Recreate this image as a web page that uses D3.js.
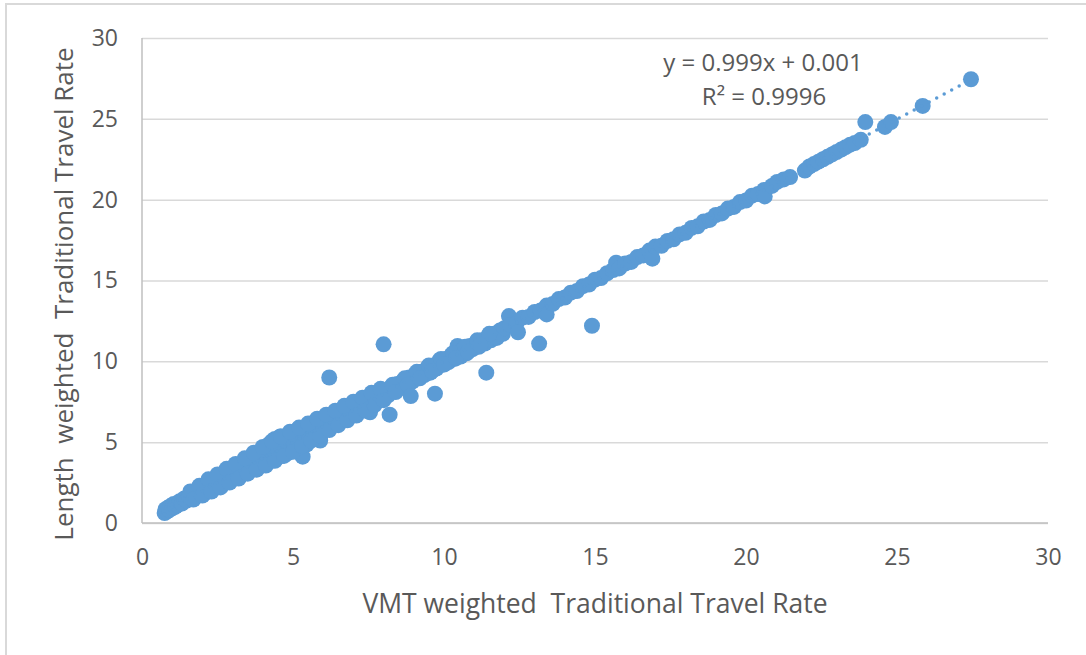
<!DOCTYPE html>
<html>
<head>
<meta charset="utf-8">
<script src="https://cdn.jsdelivr.net/npm/d3@7"></script>
<style>
  body { margin: 0; background: #fff; }
  svg { display: block; }
</style>
</head>
<body>
<svg id="chart" width="1086" height="655"></svg>
<script>
// Tick values
const xTicks = [0, 5, 10, 15, 20, 25, 30];
const yTicks = [0, 5, 10, 15, 20, 25, 30];

// Main band of points (VMT weighted rate vs length weighted rate)
const bandVmt = [
    0.75, 0.78, 0.82, 0.86, 0.90, 0.95, 1.00, 1.05, 1.10, 1.18, 1.25, 1.32, 1.40, 1.48, 1.55, 1.62, 1.70, 1.78, 1.85, 1.93, 2.00,
    2.05, 2.10, 2.15, 2.22, 2.28, 2.35, 2.40, 2.48, 2.55, 2.60, 2.68, 2.75, 2.80, 2.88, 2.95, 3.00, 3.08, 3.15, 3.20, 3.28, 3.35, 3.40, 3.48,
    3.52, 3.58, 3.62, 3.70, 3.75, 3.80, 3.88, 3.92, 3.98, 4.05, 4.10, 4.15, 4.22, 4.28, 4.32, 4.40, 4.45, 4.50, 4.58, 4.62, 4.68, 4.75, 4.80,
    4.85, 4.92, 4.98, 5.02, 5.10, 5.15, 5.20, 5.28, 5.32, 5.40, 5.45, 5.50,
    5.55, 5.62, 5.68, 5.75, 5.82, 5.90, 5.95, 6.02, 6.10, 6.15, 6.22, 6.30, 6.38, 6.45, 6.52, 6.60, 6.68, 6.75, 6.82, 6.90, 6.98, 7.05,
    7.12, 7.20, 7.28, 7.35, 7.42, 7.50, 7.55, 7.65, 7.72, 7.80, 7.88, 7.95,
    8.05, 8.15, 8.25, 8.35, 8.45, 8.55, 8.65, 8.75, 8.85, 8.95, 9.05, 9.15, 9.25, 9.35, 9.45, 9.55, 9.65, 9.75, 9.85, 9.95, 10.05, 10.15,
    10.25, 10.35, 10.45, 10.55, 10.65, 10.75, 10.85, 10.95, 11.05, 11.15, 11.25, 11.35, 11.45, 11.55, 11.65, 11.75, 11.85, 11.95,
    12.00, 12.15, 12.20, 12.40, 12.45, 12.60, 12.80, 13.00, 13.20, 13.40, 13.40, 13.60, 13.80, 14.00, 14.20, 14.40, 14.60, 14.80, 15.00,
    15.20, 15.40, 15.60, 15.70, 15.80, 16.00, 16.20, 16.40, 16.60, 16.80, 16.90, 17.00, 17.20, 17.40, 17.60, 17.80, 18.00, 18.20, 18.40,
    18.60, 18.80, 19.00, 19.20, 19.40, 19.60, 19.80, 20.00, 20.20, 20.40, 20.60, 20.62,
    20.86, 21.03, 21.25, 21.46, 21.95, 22.10, 22.25, 22.40, 22.55, 22.70, 22.85, 23.00, 23.15, 23.30, 23.45, 23.60, 23.80
];
const bandLength = [
    0.62, 0.85, 0.70, 0.95, 0.80, 1.05, 0.90, 1.18, 1.00, 1.10, 1.35, 1.20, 1.52, 1.38, 1.65, 1.50, 1.82, 1.65, 1.98, 1.80, 2.12,
    1.80, 2.35, 2.05, 2.50, 2.00, 2.60, 2.20, 2.75, 2.30, 2.90, 2.45, 3.05, 2.55, 3.15, 2.70, 3.30, 2.80, 3.45, 2.95, 3.55, 3.10, 3.70, 3.20,
    3.90, 3.30, 3.60, 4.10, 3.45, 3.80, 4.25, 3.55, 4.00, 4.45, 3.70, 4.15, 4.90, 3.85, 4.35, 5.20, 4.00, 4.50, 5.35, 4.15, 4.70, 5.10, 4.30,
    4.90, 5.45, 4.50, 5.00, 5.70, 4.70, 5.20, 5.55, 4.10, 5.30, 4.85, 5.60,
    5.20, 5.85, 5.40, 6.05, 5.55, 5.10, 6.15, 5.70, 6.35, 5.85, 6.50, 6.05, 6.65, 6.20, 6.80, 6.40, 6.95, 6.55, 7.05, 6.70, 7.20, 6.85,
    7.30, 7.00, 7.45, 7.10, 7.60, 7.25, 6.85, 7.40, 7.85, 7.55, 7.95, 7.70,
    8.20, 7.90, 8.40, 8.15, 8.60, 8.35, 8.80, 8.55, 9.00, 8.75, 9.20, 8.95, 9.35, 9.15, 9.60, 9.30, 9.75, 9.55, 10.05, 9.80, 10.15, 9.95,
    10.40, 10.15, 10.95, 10.30, 10.80, 10.50, 10.95, 10.75, 11.10, 10.90, 11.30, 11.10, 11.50, 11.30, 11.70, 11.45, 11.90, 11.70,
    12.05, 12.80, 12.25, 12.35, 11.80, 12.70, 12.75, 13.05, 13.15, 13.45, 12.90, 13.55, 13.85, 13.95, 14.25, 14.35, 14.65, 14.75, 15.05,
    15.15, 15.45, 15.65, 16.10, 15.75, 16.05, 16.15, 16.45, 16.55, 16.85, 16.35, 17.10, 17.15, 17.45, 17.55, 17.85, 17.95, 18.25, 18.35,
    18.65, 18.75, 19.05, 19.15, 19.45, 19.55, 19.85, 19.95, 20.25, 20.35, 20.60, 20.20,
    20.85, 21.10, 21.25, 21.40, 21.80, 22.05, 22.20, 22.35, 22.50, 22.65, 22.80, 22.95, 23.10, 23.25, 23.40, 23.50, 23.70
];

// Upper and lower edges of the thick part of the band
const upperEdgeVmt = [1.6, 1.9, 2.2, 2.5, 2.8, 3.1, 3.4, 3.7, 4.0, 4.3, 4.6, 4.9, 5.2, 5.5, 5.8, 6.1, 6.4, 6.7, 7.0, 7.3, 7.6, 7.9,
    8.3, 8.7, 9.1, 9.5, 9.9, 10.3, 10.7, 11.1, 11.5];
const upperEdgeLength = [1.95, 2.30, 2.70, 3.00, 3.35, 3.65, 4.00, 4.35, 4.70, 5.05, 5.35, 5.65, 5.90, 6.15, 6.45, 6.70, 6.95, 7.25, 7.50, 7.75, 8.05, 8.30,
    8.55, 8.95, 9.35, 9.75, 10.15, 10.50, 10.90, 11.30, 11.70];
const lowerEdgeVmt = [1.7, 2.0, 2.3, 2.6, 2.9, 3.2, 3.5, 3.8, 4.1, 4.4, 4.7, 5.0, 5.3, 5.6, 5.9, 6.2, 6.5, 6.8, 7.1, 7.4, 7.7, 8.0,
    8.4, 8.8, 9.2, 9.6, 10.0, 10.4, 10.8, 11.2];
const lowerEdgeLength = [1.45, 1.70, 1.95, 2.20, 2.50, 2.75, 3.05, 3.30, 3.55, 3.85, 4.15, 4.40, 4.75, 5.10, 5.40, 5.75, 6.05, 6.35, 6.65, 6.95, 7.30, 7.60,
    8.10, 8.55, 8.95, 9.40, 9.80, 10.20, 10.60, 11.00];

// Points off the main band
const outlierVmt = [6.20, 8.00, 8.20, 8.90, 9.70, 11.40, 13.15, 14.90, 23.95, 24.60, 24.80, 25.85, 27.45];
const outlierLength = [9.00, 11.05, 6.70, 7.85, 8.00, 9.30, 11.10, 12.20, 24.80, 24.50, 24.80, 25.80, 27.45];

// Linear trendline
const trendSlope = 0.999;
const trendIntercept = 0.001;
const equationText = 'y = 0.999x + 0.001';
const rSquaredText = 'R² = 0.9996';

const xTitle = 'VMT weighted  Traditional Travel Rate';
const yTitle = 'Length  weighted  Traditional Travel Rate';

const svg = d3.select('#chart');
const W = 1086, H = 655;
const margin = { top: 38, right: 38, bottom: 132, left: 142 };
const width = W - margin.left - margin.right;
const height = H - margin.top - margin.bottom;
const font = '"Open Sans", sans-serif';
const textColor = '#595959';
const blue = '#5b9bd5';

svg.append('rect').attr('width', W).attr('height', H).attr('fill', '#fff');
// outer chart frame (only top and left edges visible)
svg.append('rect')
    .attr('x', 6).attr('y', 4)
    .attr('width', W + 20).attr('height', H + 20)
    .attr('fill', 'none')
    .attr('stroke', '#d9d9d9')
    .attr('stroke-width', 2);

const g = svg.append('g').attr('transform', `translate(${margin.left},${margin.top})`);

const x = d3.scaleLinear().domain([0, 30]).range([0, width]);
const y = d3.scaleLinear().domain([0, 30]).range([height, 0]);

// Y axis with gridlines
const yAxis = g.append('g')
    .call(d3.axisLeft(y).tickValues(yTicks).tickSize(-width).tickPadding(24).tickFormat(d3.format('d')));
yAxis.select('.domain').remove();
yAxis.selectAll('.tick line').attr('stroke', '#d9d9d9').attr('stroke-width', 1.5);
yAxis.selectAll('.tick text')
    .attr('fill', textColor).attr('font-family', font).attr('font-size', '23px');

// X axis labels
const xAxis = g.append('g')
    .attr('transform', `translate(0,${height})`)
    .call(d3.axisBottom(x).tickValues(xTicks).tickSize(0).tickPadding(26).tickFormat(d3.format('d')));
xAxis.select('.domain').remove();
xAxis.selectAll('.tick text')
    .attr('fill', textColor).attr('font-family', font).attr('font-size', '23px');

// axis lines
g.append('line').attr('x1', 0).attr('x2', width).attr('y1', height).attr('y2', height)
    .attr('stroke', '#bfbfbf').attr('stroke-width', 1.5);
g.append('line').attr('x1', 0).attr('x2', 0).attr('y1', 0).attr('y2', height)
    .attr('stroke', '#bfbfbf').attr('stroke-width', 1.5);

// Points
const toPoints = (xs, ys) => xs.map((v, i) => ({ x: v, y: ys[i] }));
const points = toPoints(bandVmt, bandLength)
    .concat(toPoints(upperEdgeVmt, upperEdgeLength))
    .concat(toPoints(lowerEdgeVmt, lowerEdgeLength))
    .concat(toPoints(outlierVmt, outlierLength));

g.append('g')
    .selectAll('circle')
    .data(points)
    .join('circle')
    .attr('cx', d => x(d.x))
    .attr('cy', d => y(d.y))
    .attr('r', 8)
    .attr('fill', blue);

// Trendline (dotted)
const xMin = d3.min(points, d => d.x);
const xMax = d3.max(points, d => d.x);
g.append('line')
    .attr('x1', x(xMin)).attr('y1', y(trendSlope * xMin + trendIntercept))
    .attr('x2', x(xMax)).attr('y2', y(trendSlope * xMax + trendIntercept))
    .attr('stroke', blue)
    .attr('stroke-width', 3.5)
    .attr('stroke-linecap', 'round')
    .attr('stroke-dasharray', '0 8.5');

// Equation label
svg.append('text')
    .attr('x', 763).attr('y', 71)
    .attr('text-anchor', 'middle')
    .attr('font-family', font).attr('font-size', '24px').attr('fill', textColor)
    .text(equationText);
svg.append('text')
    .attr('x', 764).attr('y', 105)
    .attr('text-anchor', 'middle')
    .attr('font-family', font).attr('font-size', '24px').attr('fill', textColor)
    .text(rSquaredText);

// Axis titles
svg.append('text')
    .attr('x', 595).attr('y', 613)
    .attr('text-anchor', 'middle')
    .attr('font-family', font).attr('font-size', '26.5px').attr('fill', textColor)
    .style('white-space', 'pre')
    .text(xTitle);

svg.append('text')
    .attr('transform', 'translate(73,294) rotate(-90)')
    .attr('text-anchor', 'middle')
    .attr('font-family', font).attr('font-size', '26px').attr('fill', textColor)
    .style('white-space', 'pre')
    .text(yTitle);
</script>
</body>
</html>
